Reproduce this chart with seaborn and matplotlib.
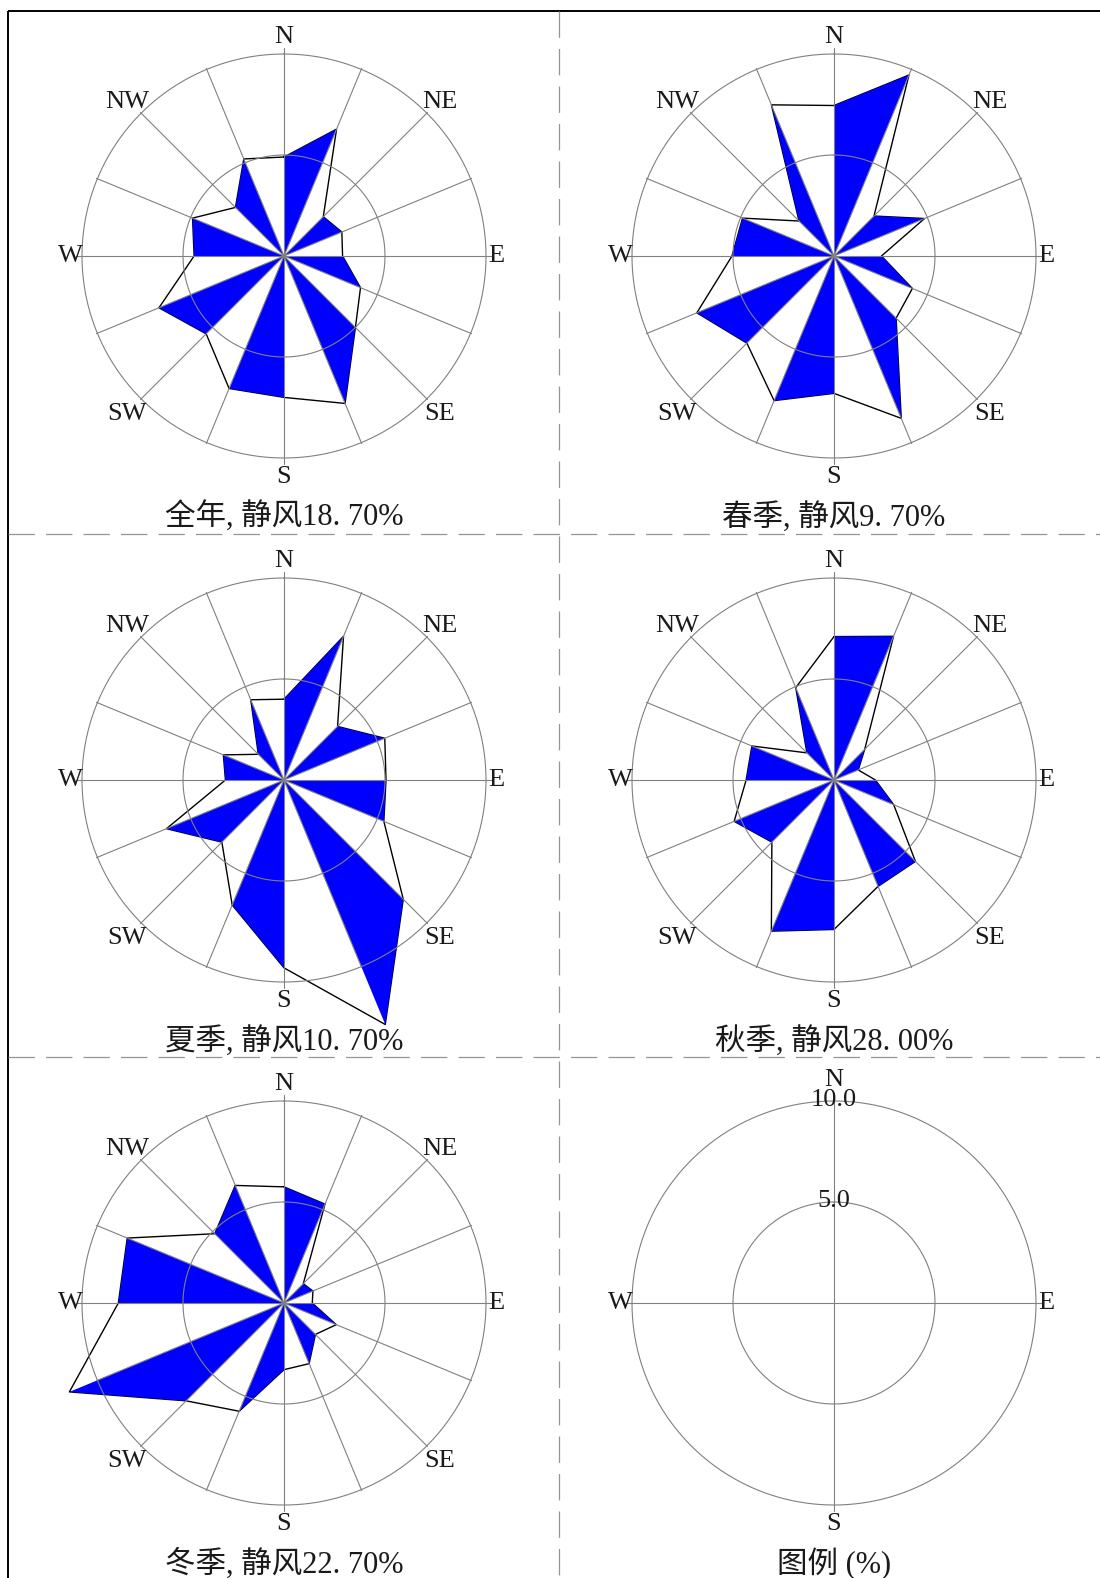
import numpy as np
import matplotlib
matplotlib.use("Agg")
import matplotlib.pyplot as plt
import seaborn as sns

# 16 compass sectors, clockwise from north
directions = ["N", "NNE", "NE", "ENE", "E", "ESE", "SE", "SSE",
              "S", "SSW", "SW", "WSW", "W", "WNW", "NW", "NNW"]

# wind direction frequency (%) per sector
annual = [4.9, 6.8, 2.75, 3.1, 2.9, 4.1, 5.0, 7.9, 7.0, 7.1, 5.45, 6.7, 4.45, 4.9, 3.4, 5.2]
spring = [7.45, 9.7, 2.8, 4.85, 2.35, 4.2, 4.35, 8.7, 6.8, 7.75, 6.1, 7.35, 5.05, 4.9, 2.45, 8.1]
summer = [4.0, 7.7, 3.75, 5.4, 5.05, 5.35, 8.35, 13.1, 9.3, 6.7, 4.35, 6.3, 2.9, 3.25, 1.8, 4.3]
autumn = [7.1, 7.7, 2.15, 1.3, 2.05, 3.2, 5.7, 5.7, 7.4, 8.1, 4.35, 5.35, 4.35, 4.4, 1.9, 4.95]
winter = [5.75, 5.3, 1.35, 1.55, 1.4, 2.8, 2.2, 3.25, 3.3, 5.8, 6.85, 11.5, 8.2, 8.4, 4.85, 6.3]

period_names = ["全年", "春季", "夏季", "秋季", "冬季"]
calm_pct = [18.70, 9.70, 10.70, 28.00, 22.70]

compass_labels = ["N", "NE", "E", "SE", "S", "SW", "W", "NW"]
ring_values = [5.0, 10.0]
legend_title = "图例 (%)"

sns.set_theme(style="white")
plt.rcParams["font.family"] = ["Liberation Serif", "Noto Sans CJK SC", "DejaVu Sans"]
plt.rcParams["lines.scale_dashes"] = False

FIG_W, FIG_H = 1100, 1578
fig = plt.figure(figsize=(FIG_W / 100, FIG_H / 100), dpi=100)
fig.patch.set_facecolor("white")

# page frame and dashed cell separators (pixel coordinates)
page = fig.add_axes([0, 0, 1, 1])
page.set_xlim(0, FIG_W)
page.set_ylim(FIG_H, 0)
page.axis("off")
page.plot([8, 8], [11, FIG_H], color="black", lw=1.4, solid_capstyle="butt")
page.plot([8, FIG_W], [11, 11], color="black", lw=1.4, solid_capstyle="butt")
sep_style = dict(color="#959595", lw=0.9, dashes=(19, 8))
page.plot([8, FIG_W], [534, 534], **sep_style)
page.plot([8, FIG_W], [1057, 1057], **sep_style)
page.plot([559, 559], [11, FIG_H], **sep_style)

PX_PER_PCT = 20.2
HALF = 14.0
centers = [(284, 256), (834, 256), (284, 780), (834, 780), (284, 1303), (834, 1303)]

GRID_C = "#808080"
LABEL_KW = dict(fontsize=19, family=["Liberation Serif", "DejaVu Serif"], color="#1a1a1a",
                ha="center", va="center", zorder=6)
TITLE_KW = dict(fontsize=22, family=["Liberation Serif", "Noto Sans CJK SC"], color="#1a1a1a",
                ha="center", va="center", zorder=6)


def rose_axes(cx, cy):
    half_px = HALF * PX_PER_PCT
    ax = fig.add_axes([(cx - half_px) / FIG_W, (FIG_H - cy - half_px) / FIG_H,
                       2 * half_px / FIG_W, 2 * half_px / FIG_H])
    ax.set_xlim(-HALF, HALF)
    ax.set_ylim(-HALF, HALF)
    ax.axis("off")
    ax.patch.set_alpha(0)
    return ax


def polar_xy(theta_deg, r):
    t = np.deg2rad(theta_deg)
    return np.asarray(r) * np.sin(t), np.asarray(r) * np.cos(t)


def draw_rings(ax):
    t = np.linspace(0, 360, 721)
    for rv in ring_values:
        x, y = polar_xy(t, rv)
        ax.plot(x, y, color=GRID_C, lw=0.8, zorder=4, clip_on=False)


def draw_labels(ax):
    pos = {"N": (0, 10.85), "NE": (7.7, 7.62), "E": (10.5, 0), "SE": (7.7, -7.8),
           "S": (0, -10.95), "SW": (-7.75, -7.8), "W": (-10.55, 0), "NW": (-7.75, 7.62)}
    for lab in compass_labels:
        ax.text(*pos[lab], lab, **LABEL_KW)


angles = np.arange(16) * 22.5
series = [annual, spring, summer, autumn, winter]

for k, (vals, name, calm) in enumerate(zip(series, period_names, calm_pct)):
    ax = rose_axes(*centers[k])
    xs, ys = polar_xy(angles, vals)

    # outline of the whole rose
    ox = np.append(xs, xs[0])
    oy = np.append(ys, ys[0])
    sns.lineplot(x=ox, y=oy, sort=False, estimator=None, color="black", lw=1.0,
                 ax=ax, zorder=2, clip_on=False)

    # alternating blue sectors: centre -> sector i -> sector i+1
    for i in range(0, 16, 2):
        j = (i + 1) % 16
        ax.fill([0, xs[i], xs[j]], [0, ys[i], ys[j]], color="#0000ff", lw=0,
                zorder=3, clip_on=False)

    # grid
    draw_rings(ax)
    for a in angles:
        r_end = 10.3 if a % 90 == 0 else 10.05
        gx, gy = polar_xy(np.array([a, a]), np.array([0, r_end]))
        ax.plot(gx, gy, color=GRID_C, lw=0.8, zorder=4, clip_on=False)

    draw_labels(ax)
    title = f"{name}, 静风{calm:.2f}%".replace(".", ". ")
    ax.text(0, -12.95, title, **TITLE_KW)

# scale legend
ax = rose_axes(*centers[5])
draw_rings(ax)
for a in [0, 90, 180, 270]:
    gx, gy = polar_xy(np.array([a, a]), np.array([0, 10.3]))
    ax.plot(gx, gy, color=GRID_C, lw=0.8, zorder=4, clip_on=False)
ax.text(0, 11.05, "N", **LABEL_KW)
ax.text(0, -10.95, "S", **LABEL_KW)
ax.text(10.5, 0, "E", **LABEL_KW)
ax.text(-10.55, 0, "W", **LABEL_KW)
for rv in ring_values:
    ax.text(0, rv + 0.05, f"{rv:.1f}", fontsize=19, family=["Liberation Serif"],
            color="#1a1a1a", ha="center", va="center", zorder=7)
ax.text(0, -12.9, legend_title, **TITLE_KW)

fig.savefig("out.png", dpi=100, facecolor="white")
